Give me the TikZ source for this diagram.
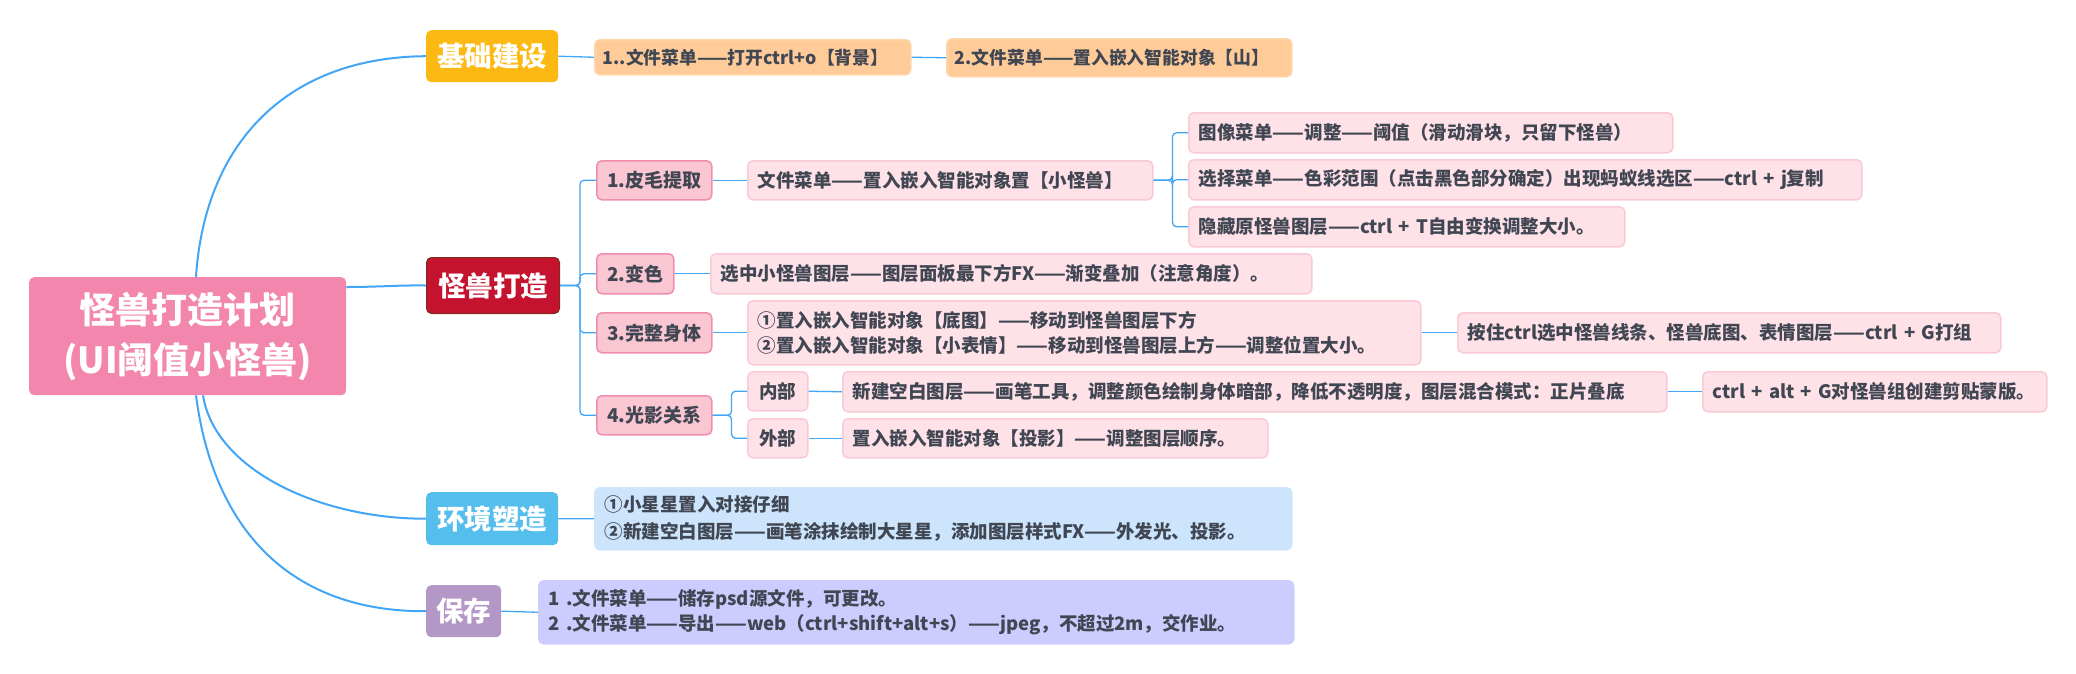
\documentclass[tikz,border=0pt]{standalone}
\usepackage{fontspec}
\setmainfont{Noto Sans CJK SC}
\definecolor{rootc}{HTML}{F386AC}
\definecolor{gold}{HTML}{FDB913}
\definecolor{crimson}{HTML}{C4122F}
\definecolor{crimsond}{HTML}{7F2A1A}
\definecolor{skyb}{HTML}{56BEEC}
\definecolor{purp}{HTML}{B397C6}
\definecolor{orf}{HTML}{FFCC99}
\definecolor{orl}{HTML}{FFD6AA}
\definecolor{pinkf}{HTML}{F9C6D2}
\definecolor{pinkd}{HTML}{F08DAD}
\definecolor{leaff}{HTML}{FFE1E8}
\definecolor{leafd}{HTML}{F9C9D5}
\definecolor{bluef}{HTML}{CCE5FC}
\definecolor{lavf}{HTML}{CCCCFF}
\definecolor{lineblue}{HTML}{42A5F5}
\definecolor{txt}{HTML}{404652}
\begin{document}
\begin{tikzpicture}[x=1pt,y=-1pt,
  bx/.style={anchor=north west, rounded corners=5pt, inner xsep=10pt, inner ysep=0pt, align=left,
    font=\fontsize{18.5}{25}\selectfont\bfseries, text=txt, line width=1.5pt},
  leaf/.style={bx, draw=leafd, fill=leaff},
  orbox/.style={bx, draw=orl, fill=orf, inner xsep=8pt, font=\fontsize{17.8}{24}\selectfont\bfseries},
  lvtwo/.style={bx, draw=pinkd, fill=pinkf, align=center, inner xsep=0pt, font=\fontsize{19}{24}\selectfont\bfseries},
  mainlbl/.style={anchor=north west, rounded corners=5pt, inner sep=0pt, text=white, align=center,
    font=\fontsize{27.5}{32}\selectfont\bfseries},
  link/.style={draw=lineblue, line width=1.3pt},
  curve/.style={draw=lineblue, line width=2pt}]
\useasboundingbox (0,0) rectangle (2076,673);

% root and main branches
\node[mainlbl, fill=rootc, minimum width=317, minimum height=118, font=\fontsize{36}{50}\selectfont\bfseries] (root) at (29,277) {怪兽打造计划\\(UI阈值小怪兽)};
\node[mainlbl, fill=gold, minimum width=132, minimum height=52] (jc) at (426,30) {基础建设};
\node[mainlbl, fill=crimson, draw=crimsond, line width=1pt, minimum width=133, minimum height=56] (gs) at (426,257) {怪兽打造};
\node[mainlbl, fill=skyb, minimum width=132, minimum height=53] (hj) at (426,492) {环境塑造};
\node[mainlbl, fill=purp, minimum width=75, minimum height=52] (bc) at (426,585) {保存};

% 基础建设
\node[orbox, text width=300, minimum height=35] (jc1) at (594,39) {\mbox{1..文件菜单——打开ctrl+o【背景】}};
\node[orbox, text width=329, minimum height=38] (jc2) at (946,38) {\mbox{2.文件菜单——置入嵌入智能对象【山】}};

% 怪兽打造
\node[lvtwo, minimum width=115, minimum height=39] (p1) at (596,160) {1.皮毛提取};
\node[leaf, text width=385, minimum height=39] (p1c) at (747,160) {文件菜单——置入嵌入智能对象置【小怪兽】};
\node[leaf, text width=464, minimum height=40] (p1a) at (1188,112) {图像菜单——调整——阈值（滑动滑块，只留下怪兽）};
\node[leaf, text width=653, minimum height=40] (p1b) at (1188,159) {选择菜单——色彩范围（点击黑色部分确定）出现蚂蚁线选区——ctrl + j复制};
\node[leaf, text width=416, minimum height=40] (p1d) at (1188,206) {隐藏原怪兽图层——ctrl + T自由变换调整大小。};

\node[lvtwo, minimum width=77, minimum height=40] (p2) at (596,253) {2.变色};
\node[leaf, text width=581, minimum height=40] (p2c) at (710,253) {选中小怪兽图层——图层面板最下方FX——渐变叠加（注意角度）。};

\node[lvtwo, minimum width=115, minimum height=40] (p3) at (596,312) {3.完整身体};
\node[leaf, text width=653, minimum height=64] (p3c) at (747,300) {①置入嵌入智能对象【底图】——移动到怪兽图层下方\\②置入嵌入智能对象【小表情】——移动到怪兽图层上方——调整位置大小。};
\node[leaf, text width=523, minimum height=40] (p3d) at (1457,312) {按住ctrl选中怪兽线条、怪兽底图、表情图层——ctrl + G打组};

\node[lvtwo, minimum width=115, minimum height=39] (p4) at (596,395) {4.光影关系};
\node[leaf, align=center, inner xsep=0pt, minimum width=60, minimum height=39] (nb) at (747,371) {内部};
\node[leaf, align=center, inner xsep=0pt, minimum width=60, minimum height=39] (wb) at (747,418) {外部};
\node[leaf, text width=804, minimum height=40] (nbc) at (842,371) {新建空白图层——画笔工具，调整颜色绘制身体暗部，降低不透明度，图层混合模式：正片叠底};
\node[leaf, text width=324, minimum height=40] (nbd) at (1702,371) {ctrl + alt + G对怪兽组创建剪贴蒙版。};
\node[leaf, text width=405, minimum height=39] (wbc) at (842,418) {置入嵌入智能对象【投影】——调整图层顺序。};

% 环境塑造
\node[bx, fill=bluef, draw=bluef, text width=677, minimum height=62, font=\fontsize{18.5}{27}\selectfont\bfseries] (hjc) at (594,487) {①小星星置入对接仔细\\②新建空白图层——画笔涂抹绘制大星星，添加图层样式FX——外发光、投影。};

% 保存
\node[bx, fill=lavf, draw=lavf, text width=735, minimum height=63] (bcc) at (538,580) {1 .文件菜单——储存psd源文件，可更改。\\2 .文件菜单——导出——web（ctrl+shift+alt+s）——jpeg，不超过2m，交作业。};

% main curves
\draw[curve] ([xshift=167pt]root.north west) .. controls (205,140) and (290,57) .. (jc.west);
\draw[curve] ([yshift=-10pt]root.north east) .. controls (380,287) and (400,285) .. (gs.west);
\draw[curve] ([xshift=174pt]root.south west) .. controls (215,470) and (320,519) .. (hj.west);
\draw[curve] ([xshift=167pt]root.south west) .. controls (215,540) and (300,612) .. (bc.west);

% links
\draw[link] (jc.east) -- (jc1.west);
\draw[link] (jc1.east) -- (jc2.west);
\foreach \c in {p1,p2,p3,p4}
  \draw[link, rounded corners=4pt] (gs.east) -- ++(20,0) |- (\c.west);
\draw[link] (p1.east) -- (p1c.west);
\foreach \c in {p1a,p1b,p1d}
  \draw[link, rounded corners=4pt] (p1c.east) -- ++(19,0) |- (\c.west);
\draw[link] (p2.east) -- (p2c.west);
\draw[link] (p3.east) -- (p3c.west);
\draw[link] (p3c.east) -- (p3d.west);
\foreach \c in {nb,wb}
  \draw[link, rounded corners=4pt] (p4.east) -- ++(19,0) |- (\c.west);
\draw[link] (nb.east) -- (nbc.west);
\draw[link] (nbc.east) -- (nbd.west);
\draw[link] (wb.east) -- (wbc.west);
\draw[link] (hj.east) -- (hjc.west);
\draw[link] (bc.east) -- (bcc.west);
\end{tikzpicture}
\end{document}
